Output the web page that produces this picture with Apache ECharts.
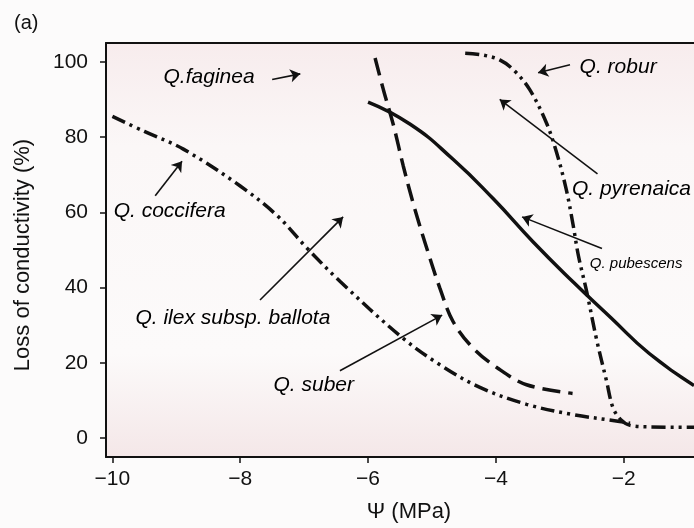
<!DOCTYPE html>
<html>
<head>
<meta charset="utf-8">
<script src="https://cdn.jsdelivr.net/npm/echarts@6/dist/echarts.min.js"></script>
<style>html,body{margin:0;padding:0;background:#fcfbfb;}#c{width:694px;height:528px;}</style>
</head>
<body>
<div id="c"></div>
<script>
// ---- data ----
const xTicks = [-10, -8, -6, -4, -2];
const yTicks = [0, 20, 40, 60, 80, 100];

const coccX = [-10.0, -9.5, -8.89, -8.0, -7.42, -6.95, -6.44, -5.5, -4.875, -4.25, -3.52, -2.8, -2.17, -1.9];
const coccY = [85.5, 81.5, 76.8, 67.0, 59.1, 50.4, 41.7, 27.2, 19.5, 13.5, 9.0, 6.3, 4.7, 4.0];

const suberX = [-5.89, -5.76, -5.60, -5.45, -5.27, -5.08, -4.875, -4.67, -4.36, -3.98, -3.52, -2.8];
const suberY = [101, 92.6, 83, 72.4, 61, 50.4, 39.8, 31, 24, 18.7, 14.2, 11.9];

const ilexX = [-6.0, -5.34, -4.67, -4.04, -3.42, -2.79, -2.2, -1.6, -0.9];
const ilexY = [89.3, 83.4, 74.1, 63.6, 52.2, 41.5, 32, 22.5, 14];

const roburX = [-4.48, -4.2, -3.94, -3.72, -3.47, -3.21, -3.05, -2.90, -2.79, -2.71, -2.58, -2.42, -2.27, -2.17, -2.05, -1.9, -1.6, -0.9];
const roburY = [102.3, 101.8, 100.5, 97.8, 92.6, 83.8, 75.9, 66.2, 56.5, 48.6, 39, 25.9, 15.3, 8.2, 5.0, 3.4, 3.0, 2.9];

// annotation texts and anchor points (data units)
const noteText = ['Q.faginea', 'Q. robur', 'Q. pyrenaica', 'Q. pubescens', 'Q. coccifera', 'Q. ilex subsp. ballota', 'Q. suber'];
const noteX = [-9.20, -2.69, -2.81, -2.53, -9.98, -9.64, -7.48];
const noteY = [96.0, 98.7, 66.2, 46.4, 60.2, 31.9, 14.2];
const noteSize = [21, 21, 21, 15, 21, 21, 21];

// arrows: from -> to (data units)
const arrowFromX = [-7.5, -2.84, -2.41, -2.34, -9.33, -7.69, -6.44];
const arrowFromY = [95.3, 99.2, 70.2, 50.4, 64.4, 36.7, 17.9];
const arrowToX = [-7.06, -3.34, -3.94, -3.59, -8.91, -6.39, -4.84];
const arrowToY = [96.8, 97.1, 90.0, 58.8, 73.6, 58.8, 32.7];

const pairs = (xs, ys) => xs.map((x, i) => [x, ys[i]]);
const minus = v => String(v).replace('-', '\u2212');

const chart = echarts.init(document.getElementById('c'));
const font = 'Liberation Sans';
const curveStyle = (type) => ({ color: '#111', width: 3.5, type: type, cap: 'butt' });

chart.setOption({
  backgroundColor: '#fcfbfb',
  animation: false,
  title: { text: '(a)', left: 9, top: 8, textStyle: { fontFamily: font, fontSize: 20, fontWeight: 'normal', color: '#111' } },
  grid: {
    left: 106, right: 0, top: 43, bottom: 68, show: true, borderWidth: 0,
    backgroundColor: new echarts.graphic.LinearGradient(0, 0, 0, 1, [
      { offset: 0, color: '#f7eced' }, { offset: 0.25, color: '#fbf7f7' },
      { offset: 0.75, color: '#fcfafa' }, { offset: 1, color: '#f4e7e8' }
    ])
  },
  xAxis: [{
    type: 'value', min: -10.1, max: -0.9,
    name: '\u03A8 (MPa)', nameLocation: 'middle', nameGap: 44,
    nameTextStyle: { fontFamily: font, fontSize: 22, color: '#111', padding: [0, 0, 0, 18] },
    axisLine: { show: true, onZero: false, lineStyle: { color: '#111', width: 2 } },
    axisTick: { show: true, customValues: xTicks, length: 6, lineStyle: { color: '#111', width: 1.5 } },
    axisLabel: { customValues: xTicks, formatter: minus, margin: 12, fontFamily: font, fontSize: 21, color: '#111' },
    splitLine: { show: false }
  }, {
    type: 'value', position: 'top', min: -10.1, max: -0.9,
    axisLine: { show: true, onZero: false, lineStyle: { color: '#111', width: 2 } },
    axisTick: { show: false }, axisLabel: { show: false }, splitLine: { show: false }
  }],
  yAxis: {
    type: 'value', min: -5, max: 105,
    name: 'Loss of conductivity (%)', nameLocation: 'middle', nameGap: 72,
    nameTextStyle: { fontFamily: font, fontSize: 22, color: '#111', padding: [0, 10, 0, 0] },
    axisLine: { show: true, onZero: false, lineStyle: { color: '#111', width: 2 } },
    axisTick: { show: true, customValues: yTicks, length: 6, lineStyle: { color: '#111', width: 1.5 } },
    axisLabel: { customValues: yTicks, margin: 18, fontFamily: font, fontSize: 21, color: '#111' },
    splitLine: { show: false }
  },
  series: [
    { name: 'coccifera', type: 'line', data: pairs(coccX, coccY), smooth: 0.35, showSymbol: false, lineStyle: curveStyle([14, 5, 3, 5, 3, 5]) },
    { name: 'suber', type: 'line', data: pairs(suberX, suberY), smooth: 0.35, showSymbol: false, lineStyle: curveStyle([18, 8]) },
    { name: 'ilex', type: 'line', data: pairs(ilexX, ilexY), smooth: 0.5, showSymbol: false, lineStyle: curveStyle('solid') },
    { name: 'robur', type: 'line', data: pairs(roburX, roburY), smooth: 0.35, showSymbol: false, lineStyle: curveStyle([14, 5, 3, 5, 3, 5]) },
    {
      name: 'arrows', type: 'lines', coordinateSystem: 'cartesian2d',
      symbol: ['none', 'arrow'], symbolSize: [7, 10],
      lineStyle: { color: '#111', width: 1.6, opacity: 1 },
      data: arrowFromX.map((x, i) => ({ coords: [[x, arrowFromY[i]], [arrowToX[i], arrowToY[i]]] }))
    },
    {
      name: 'notes', type: 'scatter', symbolSize: 0, itemStyle: { color: '#111' },
      data: noteText.map((t, i) => ({
        name: t, value: [noteX[i], noteY[i]],
        label: { fontSize: noteSize[i] }
      })),
      label: {
        show: true, position: 'right', distance: 0, formatter: p => p.name,
        fontFamily: font, fontStyle: 'italic', fontSize: 21, color: '#000', opacity: 1
      }
    }
  ]
});
</script>
</body>
</html>
